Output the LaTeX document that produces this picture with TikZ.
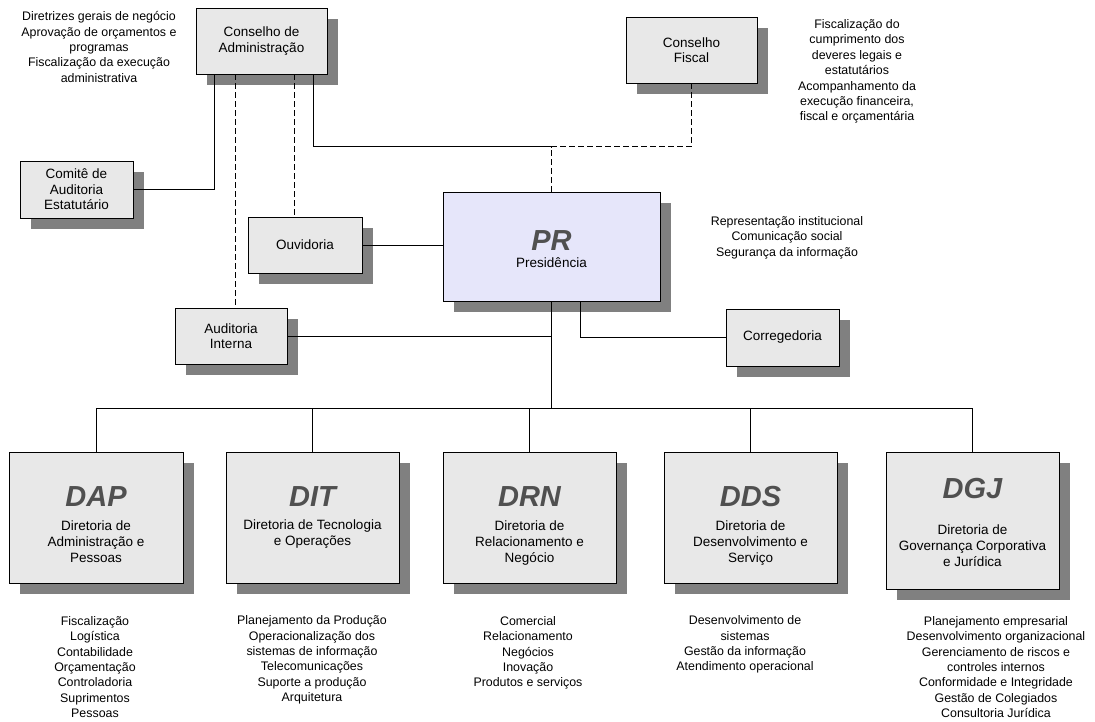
\documentclass[tikz,border=0pt]{standalone}
\usepackage{fontspec}
\setmainfont{Liberation Sans}
\usetikzlibrary{shadows}
\definecolor{boxgray}{RGB}{232,232,232}
\definecolor{shadowgray}{RGB}{128,128,128}
\definecolor{prfill}{RGB}{230,230,250}
\definecolor{siglagray}{RGB}{80,80,80}
\tikzset{
  orgbox/.style={draw, fill=boxgray, line width=0.9pt, align=center, inner sep=0pt,
    font=\fontsize{13.5}{15.5}\selectfont,
    drop shadow={shadow xshift=11pt, shadow yshift=-11pt, fill=shadowgray, opacity=1}},
  sigla/.style={font=\fontsize{29}{32}\selectfont\bfseries\itshape, text=siglagray, inner sep=0pt},
  nome/.style={align=center, font=\fontsize{13.5}{16}\selectfont, inner sep=0pt},
  atrib/.style={align=center, font=\fontsize{12.4}{15.4}\selectfont, inner sep=0pt},
  elo/.style={line width=0.8pt},
  tracejado/.style={line width=0.8pt, dash pattern=on 6pt off 3pt}
}

\begin{document}
\begin{tikzpicture}[x=1pt,y=-1pt]
  \useasboundingbox[fill=white] (0,0) rectangle (1095,722);
  \node[orgbox, minimum width=131pt, minimum height=66pt] (ca) at (261.5,41) {Conselho de\\Administração};
  \node[orgbox, minimum width=113pt, minimum height=57pt] (cae) at (76.5,189.5) {Comitê de\\Auditoria\\Estatutário};
  \node[orgbox, minimum width=131pt, minimum height=66pt] (cf) at (691.5,50) {Conselho\\Fiscal};
  \node[orgbox, fill=prfill, minimum width=217pt, minimum height=109pt] (pr) at (551.5,246.5) {};
  \node[sigla] (pr-sigla) at (551.5,241) {PR};
  \node[nome] (pr-nome) at (551.5,263) {Presidência};
  \node[orgbox, minimum width=114pt, minimum height=56pt] (ouv) at (305,245) {Ouvidoria};
  \node[orgbox, minimum width=112pt, minimum height=56pt] (ai) at (231,336) {Auditoria\\Interna};
  \node[orgbox, minimum width=113pt, minimum height=57pt] (cor) at (782.5,337.5) {Corregedoria};

  \node[orgbox, minimum width=174pt, minimum height=131pt] (dap) at (96,517.5) {};
  \node[sigla] (dap-sigla) at (96,497) {DAP};
  \node[nome] (dap-nome) at (96,542) {Diretoria de\\Administração e\\Pessoas};
  \node[orgbox, minimum width=173pt, minimum height=131pt] (dit) at (312.5,517.5) {};
  \node[sigla] (dit-sigla) at (312.5,497) {DIT};
  \node[nome] (dit-nome) at (312.5,534) {Diretoria de Tecnologia\\e Operações};
  \node[orgbox, minimum width=173pt, minimum height=131pt] (drn) at (529.5,517.5) {};
  \node[sigla] (drn-sigla) at (529.5,497) {DRN};
  \node[nome] (drn-nome) at (529.5,543) {Diretoria de\\Relacionamento e\\Negócio};
  \node[orgbox, minimum width=173pt, minimum height=131pt] (dds) at (750.5,517.5) {};
  \node[sigla] (dds-sigla) at (750.5,497) {DDS};
  \node[nome] (dds-nome) at (750.5,543) {Diretoria de\\Desenvolvimento e\\Serviço};
  \node[orgbox, minimum width=173pt, minimum height=137pt] (dgj) at (972.5,520.5) {};
  \node[sigla] (dgj-sigla) at (972.5,489) {DGJ};
  \node[nome] (dgj-nome) at (972.5,546) {Diretoria de\\Governança Corporativa\\e Jurídica};

  \node[atrib] (ca-atrib) at (99,47) {Diretrizes gerais de negócio\\Aprovação de orçamentos e\\programas\\Fiscalização da execução\\administrativa};
  \node[atrib] (cf-atrib) at (857,71.5) {Fiscalização do\\cumprimento dos\\deveres legais e\\estatutários\\Acompanhamento da\\execução financeira,\\fiscal e orçamentária};
  \node[atrib] (pr-atrib) at (787,237.5) {Representação institucional\\Comunicação social\\Segurança da informação};
  \node[atrib] (dap-atrib) at (95,667) {Fiscalização\\Logística\\Contabilidade\\Orçamentação\\Controladoria\\Suprimentos\\Pessoas};
  \node[atrib] (dit-atrib) at (312,660) {Planejamento da Produção\\Operacionalização dos\\sistemas de informação\\Telecomunicações\\Suporte a produção\\Arquitetura};
  \node[atrib] (drn-atrib) at (528,653) {Comercial\\Relacionamento\\Negócios\\Inovação\\Produtos e serviços};
  \node[atrib] (dds-atrib) at (745,644.5) {Desenvolvimento de\\sistemas\\Gestão da informação\\Atendimento operacional};
  \node[atrib] (dgj-atrib) at (996,667) {Planejamento empresarial\\Desenvolvimento organizacional\\Gerenciamento de riscos e\\controles internos\\Conformidade e Integridade\\Gestão de Colegiados\\Consultoria Jurídica};

  \coordinate (ca-a) at ([xshift=-47.5pt]ca.south);
  \coordinate (ca-b) at ([xshift=-26.5pt]ca.south);
  \coordinate (ca-c) at ([xshift=32.5pt]ca.south);
  \coordinate (ca-d) at ([xshift=51.5pt]ca.south);
  \coordinate (topo) at ([yshift=45pt]pr.north);
  \coordinate (pr-c) at ([xshift=28.5pt]pr.south);
  \coordinate (bus) at (551.5,408);

  \draw[elo] (ca-a) |- (cae);
  \draw[tracejado] (ca-b) -- (ca-b |- ai.north);
  \draw[tracejado] (ca-c) -- (ca-c |- ouv.north);
  \draw[elo] (ca-d) |- (topo);
  \draw[tracejado] (cf) |- (topo) -- (pr);
  \draw[elo] (ouv.east) -- (ouv.east -| pr.west);
  \draw[elo] (ai.east) -- (ai.east -| pr.south);
  \draw[elo] (pr-c) |- (cor);
  \draw[elo] (pr.south) -- (bus);
  \foreach \d in {dap,dit,drn,dds,dgj}
    \draw[elo] (\d.north) |- (bus);
\end{tikzpicture}
\end{document}
